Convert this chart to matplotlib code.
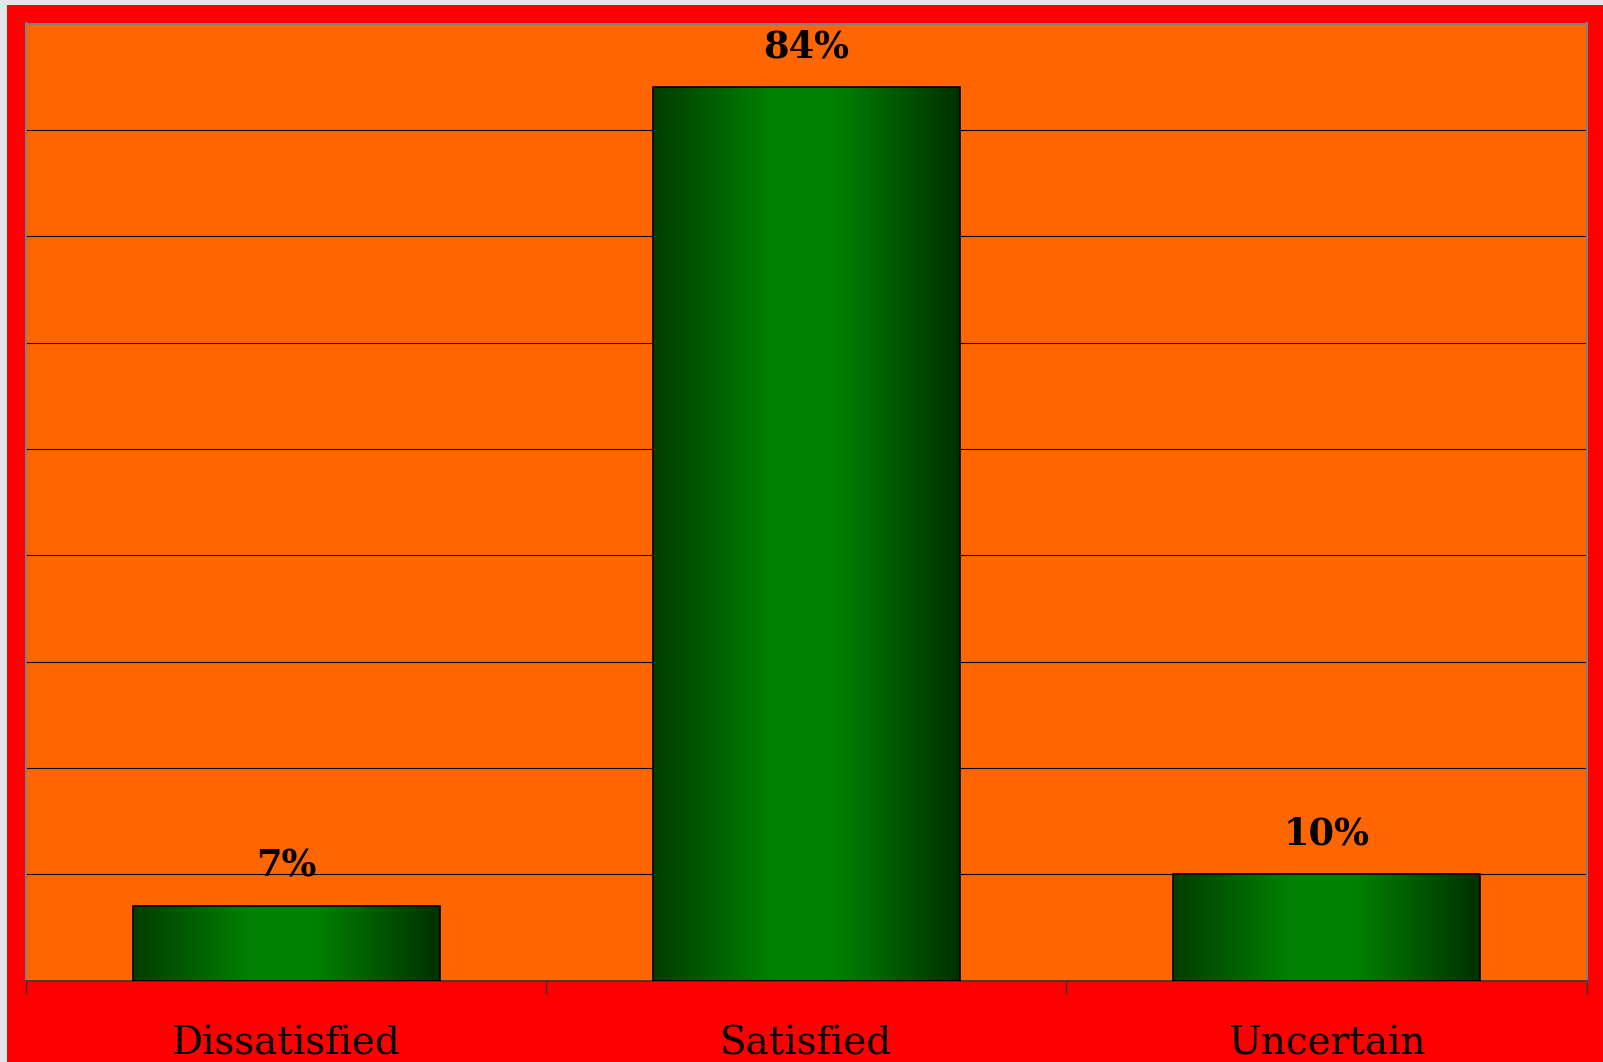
import numpy as np
import matplotlib

matplotlib.use("Agg")
import matplotlib.pyplot as plt
from matplotlib.patches import Rectangle

categories = ["Dissatisfied", "Satisfied", "Uncertain"]
shares = [0.07, 0.84, 0.10]
value_labels = ["7%", "84%", "10%"]

W, H = 1603, 1062
fig = plt.figure(figsize=(W / 100, H / 100), dpi=100)
fig.patch.set_facecolor("#e2e6ea")

# red frame behind the plot (page background shows on top/left strip)
fig.patches.append(Rectangle((7 / W, 0), 1 - 7 / W, 1 - 5 / H, transform=fig.transFigure,
                             facecolor="#ff0000", edgecolor="none", zorder=-5))

ax = fig.add_axes([26 / W, 1 - 980.7 / H, (1586.7 - 26) / W, (980.7 - 23.5) / H])
ax.set_facecolor("#ff6600")

# horizontal green gradient, dark at the edges, bright just left of centre
t = np.linspace(0, 1, 256)
g = np.interp(t, [0, 0.38, 0.6, 1], [0.24, 0.50, 0.50, 0.19])
grad = np.zeros((1, t.size, 3))
grad[0, :, 1] = g

bar_w = 0.59
x = np.arange(len(categories))
for xi, v, lab in zip(x, shares, value_labels):
    ax.imshow(grad, extent=(xi - bar_w / 2, xi + bar_w / 2, 0, v), aspect="auto", zorder=3,
              interpolation="bilinear")
    ax.add_patch(Rectangle((xi - bar_w / 2, 0), bar_w, v, facecolor="none",
                           edgecolor="black", linewidth=1.2, zorder=4))
    ax.annotate(lab, xy=(xi, v), xytext=(0, 16), textcoords="offset points",
                ha="center", va="bottom", fontsize=26.5, fontweight="bold",
                family="DejaVu Serif", color="black")

ax.set_xlim(-0.5, len(categories) - 0.5)
ax.set_ylim(0, 0.9)
ax.set_yticks(np.arange(0.1, 0.9, 0.1))
ax.yaxis.grid(True, color="black", linewidth=0.8)
ax.set_axisbelow(True)
ax.tick_params(axis="y", left=False, labelleft=False)

ax.set_xticks(x)
ax.set_xticklabels(categories, family="DejaVu Serif", fontsize=28)
ax.tick_params(axis="x", which="major", length=0, pad=32)
ax.set_xticks(np.arange(-0.5, len(categories), 1.0), minor=True)
ax.tick_params(axis="x", which="minor", length=9, width=1, color="#333333", direction="out")

for s in ["left", "top", "right"]:
    ax.spines[s].set_color("#808080")
    ax.spines[s].set_linewidth(1.5)
ax.spines["bottom"].set_color("#333333")
ax.spines["bottom"].set_linewidth(1.2)

fig.savefig("out.png", dpi=100, facecolor=fig.get_facecolor())
